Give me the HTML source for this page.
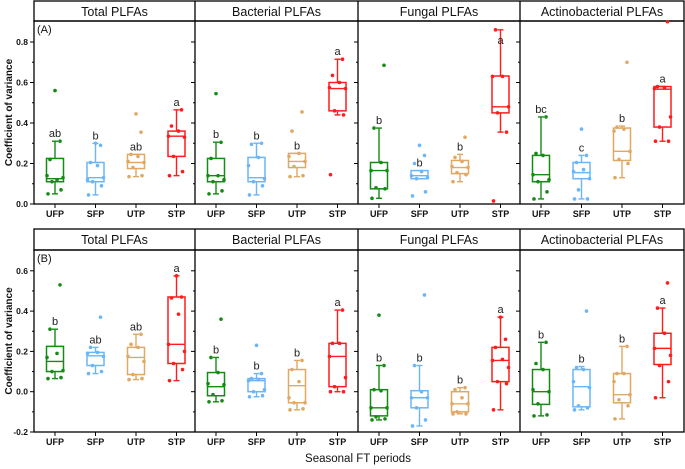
<!DOCTYPE html>
<html><head><meta charset="utf-8"><style>
html,body{margin:0;padding:0;background:#fff;}
svg{display:block;font-family:"Liberation Sans",Arial,sans-serif;}
</style></head><body>
<svg id="chart" width="685" height="469" viewBox="0 0 685 469"></svg>
<script>
// ---- data ----
const categories = ["UFP","SFP","UTP","STP"];
const panelTitles = ["Total PLFAs","Bacterial PLFAs","Fungal PLFAs","Actinobacterial PLFAs"];
const colors = ["#158a15","#6cb6f8","#e0a862","#ff1c1c"];
// row A box stats [lo, q1, median, q3, hi]
const statsA = [
 [[0.05,0.11,0.125,0.225,0.31],[0.045,0.11,0.13,0.205,0.30],[0.135,0.175,0.205,0.245,0.245],[0.14,0.235,0.335,0.36,0.465]],
 [[0.05,0.11,0.14,0.225,0.305],[0.045,0.11,0.13,0.23,0.30],[0.135,0.18,0.21,0.25,0.25],[0.44,0.46,0.57,0.60,0.715]],
 [[0.028,0.075,0.165,0.205,0.375],[0.125,0.125,0.14,0.165,0.165],[0.11,0.15,0.18,0.215,0.245],[0.355,0.45,0.48,0.632,0.86]],
 [[0.025,0.11,0.145,0.24,0.43],[0.025,0.125,0.155,0.205,0.24],[0.13,0.215,0.26,0.375,0.385],[0.31,0.38,0.567,0.58,0.58]]
];
const pointsA = [
 [[0.05,0.07,0.11,0.13,0.14,0.12,0.22,0.31,0.56],[0.045,0.09,0.11,0.13,0.12,0.19,0.205,0.29,0.30],[0.135,0.14,0.18,0.205,0.21,0.235,0.245,0.355,0.445],[0.14,0.16,0.235,0.33,0.335,0.36,0.385,0.465]],
 [[0.05,0.065,0.11,0.12,0.14,0.14,0.225,0.305,0.545],[0.045,0.09,0.11,0.125,0.19,0.23,0.295,0.30],[0.135,0.14,0.185,0.21,0.235,0.25,0.36,0.455],[0.145,0.44,0.46,0.57,0.575,0.60,0.635,0.715]],
 [[0.028,0.075,0.08,0.165,0.165,0.205,0.375,0.685],[0.04,0.06,0.125,0.13,0.14,0.16,0.2,0.24,0.29],[0.11,0.145,0.155,0.18,0.185,0.21,0.23,0.33],[0.015,0.355,0.45,0.48,0.63,0.63,0.86]],
 [[0.025,0.06,0.11,0.12,0.145,0.24,0.25,0.43],[0.025,0.025,0.07,0.125,0.16,0.17,0.205,0.24,0.37],[0.13,0.2,0.22,0.26,0.36,0.37,0.38,0.70],[0.31,0.31,0.38,0.43,0.57,0.575,0.58,0.90]]
];
const lettersA = [["ab","b","ab","a"],["b","b","b","a"],["b","b","b","a"],["bc","c","b","a"]];
// row B
const statsB = [
 [[0.065,0.10,0.15,0.225,0.31],[0.09,0.13,0.178,0.195,0.22],[0.06,0.085,0.17,0.22,0.285],[0.055,0.14,0.235,0.47,0.575]],
 [[-0.05,-0.02,0.025,0.095,0.17],[-0.025,0.0,0.055,0.065,0.09],[-0.09,-0.055,0.03,0.11,0.155],[0.0,0.025,0.175,0.24,0.405]],
 [[-0.14,-0.12,-0.08,0.01,0.13],[-0.17,-0.08,-0.03,0.005,0.13],[-0.11,-0.10,-0.06,0.0,0.02],[-0.09,0.05,0.155,0.22,0.37]],
 [[-0.12,-0.063,0.0,0.11,0.245],[-0.09,-0.075,0.025,0.11,0.125],[-0.135,-0.055,-0.015,0.09,0.225],[-0.03,0.135,0.215,0.29,0.415]]
];
const pointsB = [
 [[0.065,0.07,0.10,0.105,0.17,0.19,0.31,0.53],[0.09,0.1,0.13,0.175,0.19,0.195,0.22,0.37],[0.06,0.065,0.085,0.15,0.175,0.22,0.235,0.285],[0.055,0.11,0.14,0.2,0.235,0.385,0.465,0.47,0.575]],
 [[-0.05,-0.045,-0.015,0.035,0.04,0.095,0.17,0.36],[-0.025,-0.02,0.0,0.01,0.055,0.06,0.065,0.09,0.23],[-0.09,-0.085,-0.055,-0.055,-0.03,0.05,0.11,0.155],[0.0,0.0,0.025,0.07,0.175,0.24,0.24,0.405]],
 [[-0.14,-0.135,-0.125,-0.08,-0.08,0.005,0.01,0.13,0.38],[-0.17,-0.14,-0.08,-0.03,-0.03,0.0,0.13,0.48],[-0.11,-0.11,-0.1,-0.06,-0.06,-0.03,0.01,0.02],[-0.09,0.04,0.05,0.12,0.155,0.16,0.22,0.26,0.37]],
 [[-0.12,-0.115,-0.06,0.0,0.01,0.11,0.14,0.245],[-0.09,-0.08,-0.07,0.02,0.05,0.11,0.12,0.40],[-0.135,-0.07,-0.04,-0.015,0.05,0.09,0.09,0.225],[-0.03,0.05,0.13,0.18,0.215,0.29,0.415,0.54]]
];
const lettersB = [["b","ab","ab","a"],["b","b","b","a"],["b","b","b","a"],["b","b","b","a"]];
const ticksA = [0.0,0.2,0.4,0.6,0.8];
const tickLabelsA = ["0.0","0.2","0.4","0.6","0.8"];
const ticksB = [-0.2,0.0,0.2,0.4,0.6];
const tickLabelsB = ["-0.2","0.0","0.2","0.4","0.6"];

// ---- drawing ----
const NS="http://www.w3.org/2000/svg";
const svg=document.getElementById('chart');
function mk(tag,attrs,parent,text){const e=document.createElementNS(NS,tag);for(const k in attrs)e.setAttribute(k,attrs[k]);if(text!==undefined)e.textContent=text;(parent||svg).appendChild(e);return e;}
const px=[34,195,358,520,684];
const jitter=[-7,6,-3,8,-8,2,-5,5,0];

function drawRow(cfg){
  const y=v=>cfg.y0-v*cfg.k;
  const g=mk('g',{});
  
  
  // header strip
  const hdr=mk('rect',{x:px[0],y:cfg.top,width:px[4]-px[0],height:cfg.hb-cfg.top,fill:'#fff',stroke:'#000','stroke-width':1.3},g);
  
  
  const fr=mk('rect',{x:px[0],y:cfg.hb,width:px[4]-px[0],height:cfg.bot-cfg.hb,fill:'none',stroke:'#000','stroke-width':1.3},g);
  
  
  for(let p=0;p<4;p++){
    const L=px[p],R=px[p+1];
    if(p>0){const d=mk('line',{x1:L,x2:L,y1:cfg.top,y2:cfg.bot,stroke:'#000','stroke-width':1.3},g);
      }
    const t=mk('text',{x:(L+R)/2,y:cfg.top+15,'text-anchor':'middle','font-size':12.5,fill:'#111'},g,panelTitles[p]);
    
    
    // ticks
    for(let v=cfg.tmin;v<=cfg.tmax+1e-9;v+=0.1){
      const major=Math.abs(Math.round(v*10)%2)===0;
      mk('line',{x1:L,x2:L-(major?4:2),y1:y(v),y2:y(v),stroke:'#000','stroke-width':1},g);
    }
    for(let c=0;c<4;c++){
      const cx=L+21+c*40.5;
      mk('line',{x1:cx,x2:cx,y1:cfg.bot,y2:cfg.bot+4,stroke:'#000','stroke-width':1},g);
      const tl=mk('text',{x:cx,y:cfg.bot+13,'text-anchor':'middle','font-size':9,'font-weight':'bold',fill:'#111'},g,categories[c]);
      
      
      const s=cfg.stats[p][c],col=colors[c];
      const bg=mk('g',{},g);
      
      
      const w=8.5;
      mk('line',{x1:cx,x2:cx,y1:y(s[0]),y2:y(s[4]),stroke:col,'stroke-width':1.4},bg);
      mk('line',{x1:cx-3,x2:cx+3,y1:y(s[0]),y2:y(s[0]),stroke:col,'stroke-width':1.4},bg);
      mk('line',{x1:cx-3,x2:cx+3,y1:y(s[4]),y2:y(s[4]),stroke:col,'stroke-width':1.4},bg);
      mk('rect',{x:cx-w,y:y(s[3]),width:2*w,height:Math.max(0.5,y(s[1])-y(s[3])),fill:'#fff',stroke:col,'stroke-width':1.5},bg);
      mk('line',{x1:cx-w,x2:cx+w,y1:y(s[2]),y2:y(s[2]),stroke:col,'stroke-width':1.4},bg);
      cfg.pts[p][c].forEach((v,i)=>{
        const dot=mk('circle',{cx:cx+jitter[i%jitter.length],cy:y(v),r:1.8,fill:col},bg);
        
        
      });
      let ly=y(s[4])-4; if(ly<cfg.hb+10){ly=y(s[4])+14;}
      const lt=mk('text',{x:cx,y:ly,'text-anchor':'middle','font-size':11,fill:'#222'},bg,cfg.letters[p][c]);
      
      
    }
  }
  cfg.ticks.forEach((v,i)=>{
    const yl=mk('text',{x:px[0]-6,y:y(v)+3,'text-anchor':'end','font-size':8.5,'font-weight':'bold',fill:'#111'},g,cfg.tickLabels[i]);
    
    
  });
  const pl=mk('text',{x:px[0]+3,y:cfg.hb+12,'font-size':11,fill:'#111'},g,cfg.label);
  
  
  const yt=mk('text',{x:0,y:0,'text-anchor':'middle','font-size':10,'font-weight':'bold',fill:'#111',transform:`translate(12,${(cfg.hb+cfg.bot)/2}) rotate(-90)`},g,'Coefficient of variance');
  
  
}
drawRow({name:'row-a',top:1,hb:21,bot:204,y0:204,k:202.5,tmin:0,tmax:0.8,ticks:ticksA,tickLabels:tickLabelsA,stats:statsA,pts:pointsA,letters:lettersA,label:'(A)'});
drawRow({name:'row-b',top:229,hb:250,bot:432,y0:391.7,k:201.5,tmin:-0.2,tmax:0.6,ticks:ticksB,tickLabels:tickLabelsB,stats:statsB,pts:pointsB,letters:lettersB,label:'(B)'});
const xt=mk('text',{x:358,y:462,'text-anchor':'middle','font-size':11.5,fill:'#111'},svg,'Seasonal FT periods');


</script>
</body></html>
